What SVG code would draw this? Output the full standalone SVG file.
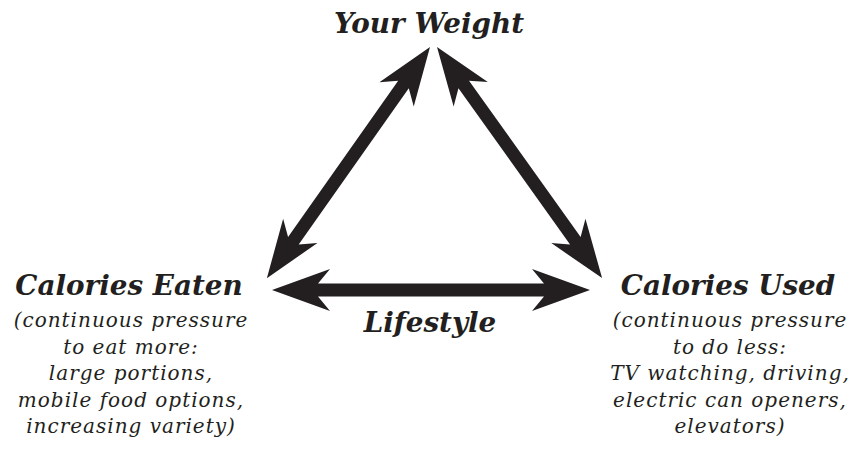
<svg xmlns="http://www.w3.org/2000/svg" width="851" height="459" viewBox="0 0 851 459">
<style>
.arr{fill:#231f20;stroke:none}
.h{font-family:"DejaVu Serif","Liberation Serif",serif;font-style:italic;font-weight:bold;font-size:27.8px;fill:#231f20;text-anchor:middle}
.s{font-family:"DejaVu Serif","Liberation Serif",serif;font-style:italic;font-size:20px;letter-spacing:1px;fill:#231f20;text-anchor:middle}
</style>
<rect width="851" height="459" fill="#fff"/>
<g id="connectors">
<path class="arr" transform="translate(430,47) rotate(125.2)" d="M0,0 L58,-21 L46,-6.5 L237,-6.5 L225,-21 L283,0 L225,21 L237,6.5 L46,6.5 L58,21 Z"/>
<path class="arr" transform="translate(437,47) rotate(54.46)" d="M0,0 L58,-21 L46,-6.5 L238,-6.5 L226,-21 L284,0 L226,21 L238,6.5 L46,6.5 L58,21 Z"/>
<path class="arr" transform="translate(272,290)" d="M0,0 L58,-21 L46,-6.5 L272,-6.5 L260,-21 L318,0 L260,21 L272,6.5 L46,6.5 L58,21 Z"/>
</g>
<g id="weight">
<text class="h" x="429" y="33">Your Weight</text>
</g>
<g id="eaten">
<text class="h" x="129" y="295">Calories Eaten</text>
<text class="s" x="131" y="327">(continuous pressure</text>
<text class="s" x="131" y="353.5">to eat more:</text>
<text class="s" x="131" y="380">large portions,</text>
<text class="s" x="131" y="406.5">mobile food options,</text>
<text class="s" x="131" y="433">increasing variety)</text>
</g>
<g id="used">
<text class="h" x="728" y="295">Calories Used</text>
<text class="s" x="730" y="327">(continuous pressure</text>
<text class="s" x="730" y="353.5">to do less:</text>
<text class="s" x="730" y="380">TV watching, driving,</text>
<text class="s" x="730" y="406.5">electric can openers,</text>
<text class="s" x="730" y="433">elevators)</text>
</g>
<g id="lifestyle">
<text class="h" x="430" y="332">Lifestyle</text>
</g>
</svg>
